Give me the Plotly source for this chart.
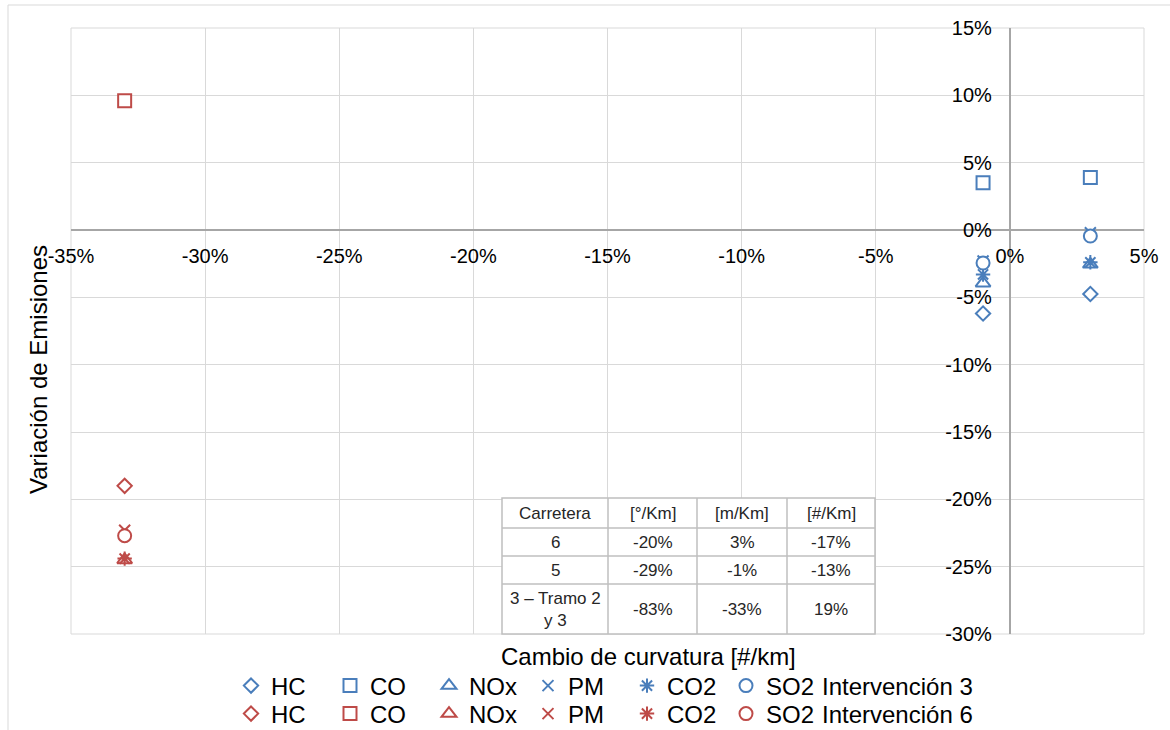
import plotly.graph_objects as go

# Curvature change (x) for each intervention
x_int3 = [-0.01, 0.03]
x_int6 = [-0.33]

# Emission variation, Intervención 3
hc_int3 = [-0.062, -0.0475]
co_int3 = [0.035, 0.039]
nox_int3 = [-0.0395, -0.0255]
pm_int3 = [-0.023, -0.002]
co2_int3 = [-0.033, -0.024]
so2_int3 = [-0.0245, -0.0045]

# Emission variation, Intervención 6
hc_int6 = [-0.190]
co_int6 = [0.096]
nox_int6 = [-0.245]
pm_int6 = [-0.223]
co2_int6 = [-0.244]
so2_int6 = [-0.227]

pollutants = ["HC", "CO", "NOx", "PM", "CO2", "SO2"]
symbols = ["diamond", "square", "triangle-up", "x-thin", "asterisk", "circle"]
sizes = [11, 13, 13, 11, 12, 13]

# Axis ticks
x_tickvals = [-0.35, -0.30, -0.25, -0.20, -0.15, -0.10, -0.05, 0.0, 0.05]
x_ticktext = ["-35%", "-30%", "-25%", "-20%", "-15%", "-10%", "-5%", "0%", "5%"]
y_tickvals = [0.15, 0.10, 0.05, 0.0, -0.05, -0.10, -0.15, -0.20, -0.25, -0.30]
y_ticktext = ["15%", "10%", "5%", "0%", "-5%", "-10%", "-15%", "-20%", "-25%", "-30%"]

# Inset table
tbl_header = ["Carretera", "[°/Km]", "[m/Km]", "[#/Km]"]
tbl_carretera = ["6", "5", "3 – Tramo 2<br>y 3"]
tbl_grados = ["-20%", "-29%", "-83%"]
tbl_metros = ["3%", "-1%", "-33%"]
tbl_numero = ["-17%", "-13%", "19%"]

BLUE = "#4A7EBB"
RED = "#BE4B48"
GRID = "#D9D9D9"
TBL_LINE = "#BFBFBF"
FONT = "Liberation Sans, Arial, sans-serif"

W, H = 1170, 730
ML, MR, MT, MB = 71, 26, 28, 96
PW, PH = W - ML - MR, H - MT - MB


def px_x(px):
    """pixel column -> paper x"""
    return (px - ML) / PW


def px_y(py):
    """pixel row -> paper y"""
    return (H - MB - py) / PH


fig = go.Figure()

groups = [
    ("legend", BLUE, x_int3, [hc_int3, co_int3, nox_int3, pm_int3, co2_int3, so2_int3]),
    ("legend2", RED, x_int6, [hc_int6, co_int6, nox_int6, pm_int6, co2_int6, so2_int6]),
]

for legend_id, color, xs, series in groups:
    for name, sym, size, ys in zip(pollutants, symbols, sizes, series):
        line_only = sym in ("x-thin", "asterisk")
        fig.add_trace(go.Scatter(
            x=xs, y=ys, mode="markers", name=name, legend=legend_id,
            marker=dict(
                symbol=sym, size=size,
                color=color if line_only else "white",
                line=dict(color=color, width=2),
            ),
            cliponaxis=False,
        ))

axis_common = dict(
    showgrid=True, gridcolor=GRID, gridwidth=1,
    zeroline=True, zerolinecolor="#A6A6A6", zerolinewidth=2,
    showline=False, ticks="",
    tickfont=dict(family=FONT, size=20, color="#000000"),
    anchor="free",
)

shapes = [
    # outer chart frame
    dict(type="rect", xref="paper", yref="paper",
         x0=px_x(8), x1=px_x(1200), y0=px_y(760), y1=px_y(5),
         line=dict(color=GRID, width=1), layer="below"),
    # plot area frame
    dict(type="rect", xref="paper", yref="paper", x0=0, x1=1, y0=0, y1=1,
         line=dict(color=GRID, width=1), layer="below"),
]
annotations = [
    dict(text="Cambio de curvatura [#/km]", xref="paper", yref="paper",
         x=px_x(648), y=px_y(656), showarrow=False,
         xanchor="center", yanchor="middle", font=dict(family=FONT, size=24)),
    dict(text="Variación de Emisiones", xref="paper", yref="paper",
         x=px_x(38), y=px_y(370), showarrow=False, textangle=-90,
         xanchor="center", yanchor="middle", font=dict(family=FONT, size=24)),
    dict(text="Intervención 3", xref="paper", yref="paper",
         x=px_x(820), y=px_y(686), showarrow=False,
         xanchor="left", yanchor="middle", font=dict(family=FONT, size=24)),
    dict(text="Intervención 6", xref="paper", yref="paper",
         x=px_x(820), y=px_y(714), showarrow=False,
         xanchor="left", yanchor="middle", font=dict(family=FONT, size=24)),
]

# Inset table drawn as a white panel with cell borders and centred text
col_edges = [502, 608, 697, 787, 875]
row_edges = [498, 528, 556, 584, 634]
table_rows = [tbl_header] + [list(r) for r in zip(tbl_carretera, tbl_grados, tbl_metros, tbl_numero)]

shapes.append(dict(type="rect", xref="paper", yref="paper",
                   x0=px_x(col_edges[0]), x1=px_x(col_edges[-1]),
                   y0=px_y(row_edges[-1]), y1=px_y(row_edges[0]),
                   fillcolor="white", line=dict(color=TBL_LINE, width=1.5), layer="above"))
for cx in col_edges[1:-1]:
    shapes.append(dict(type="line", xref="paper", yref="paper",
                       x0=px_x(cx), x1=px_x(cx), y0=px_y(row_edges[-1]), y1=px_y(row_edges[0]),
                       line=dict(color=TBL_LINE, width=1.5), layer="above"))
for ry in row_edges[1:-1]:
    shapes.append(dict(type="line", xref="paper", yref="paper",
                       x0=px_x(col_edges[0]), x1=px_x(col_edges[-1]), y0=px_y(ry), y1=px_y(ry),
                       line=dict(color=TBL_LINE, width=1.5), layer="above"))
for ri, row in enumerate(table_rows):
    yc = (row_edges[ri] + row_edges[ri + 1]) / 2
    for ci, txt in enumerate(row):
        xc = (col_edges[ci] + col_edges[ci + 1]) / 2
        annotations.append(dict(text=txt, xref="paper", yref="paper",
                                x=px_x(xc), y=px_y(yc), showarrow=False,
                                xanchor="center", yanchor="middle",
                                font=dict(family=FONT, size=17, color="#262626")))

legend_common = dict(
    orientation="h", xanchor="left", yanchor="middle",
    entrywidth=54, entrywidthmode="pixels", itemwidth=30,
    font=dict(family=FONT, size=24, color="#000000"), bgcolor="rgba(0,0,0,0)",
)

fig.update_layout(
    width=W, height=H,
    margin=dict(l=ML, r=MR, t=MT, b=MB, autoexpand=False),
    paper_bgcolor="white", plot_bgcolor="white",
    font=dict(family=FONT, color="#000000"),
    xaxis=dict(
        range=[-0.35, 0.05], tickvals=x_tickvals, ticktext=x_ticktext,
        position=30 / 45, ticklabelstandoff=12, **axis_common,
    ),
    yaxis=dict(
        range=[-0.30, 0.15], tickvals=y_tickvals, ticktext=y_ticktext,
        position=35 / 40, ticklabelstandoff=18, **axis_common,
    ),
    legend=dict(x=px_x(231), y=px_y(686), **legend_common),
    legend2=dict(x=px_x(231), y=px_y(714), **legend_common),
    shapes=shapes,
    annotations=annotations,
)

fig.write_html("out.html")
